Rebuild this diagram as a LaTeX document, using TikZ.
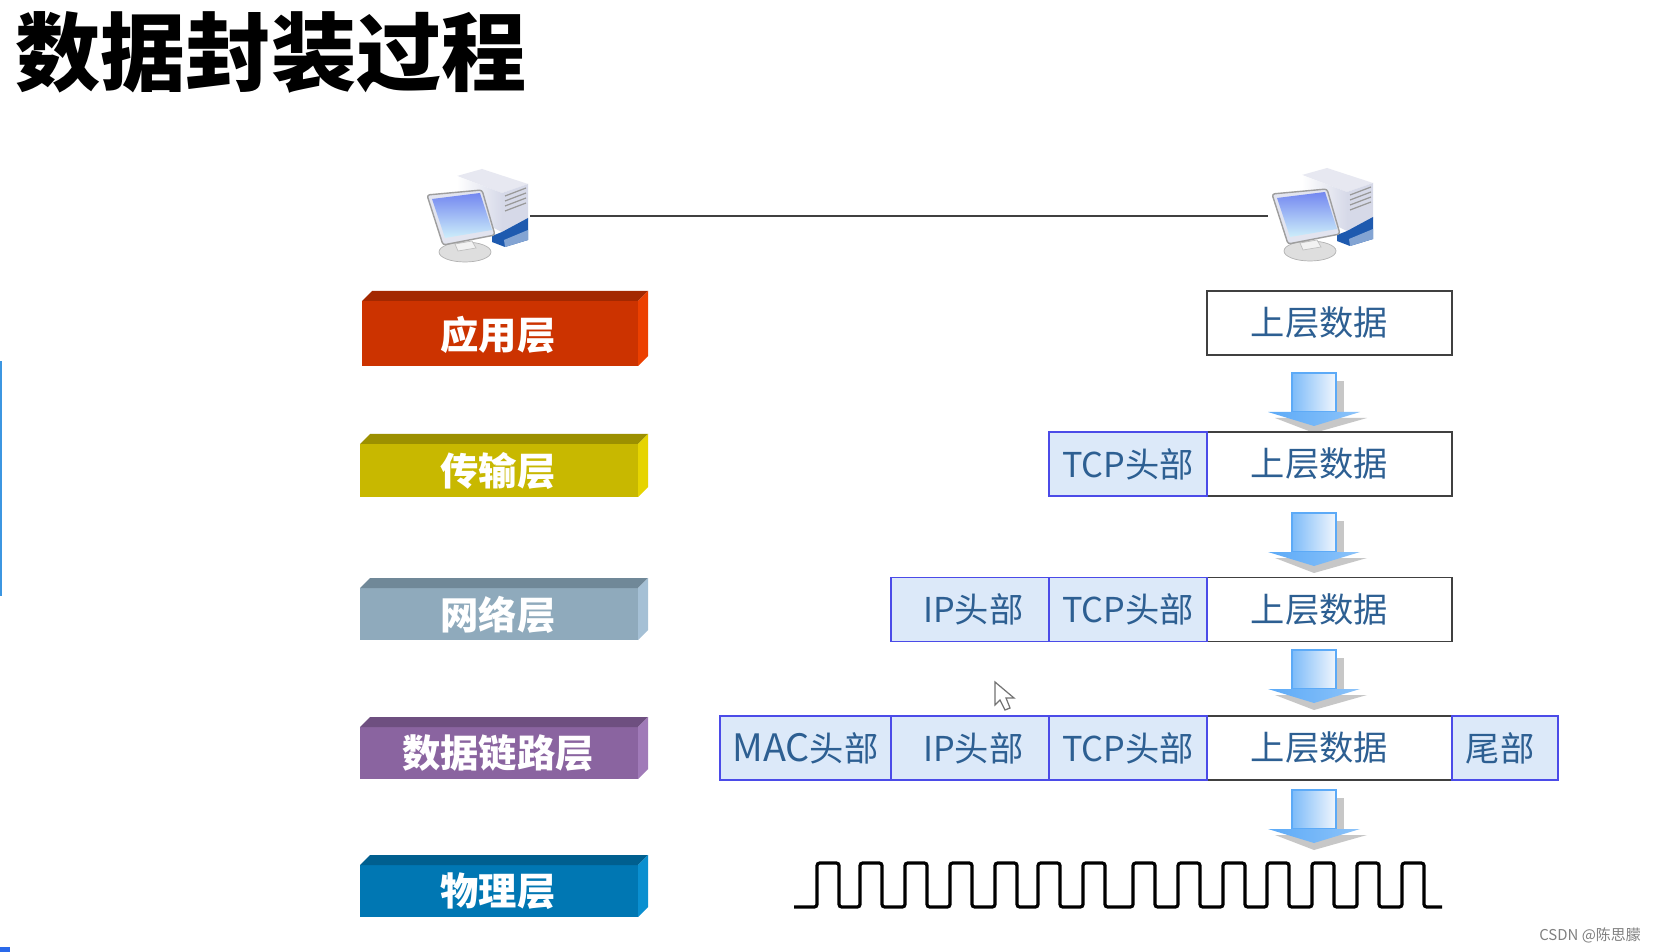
\documentclass[tikz,border=0pt]{standalone}
\usepackage{fontspec}
\setmainfont{Noto Sans CJK SC}
\usepackage{tikz}
\usetikzlibrary{calc}
\definecolor{mytext}{RGB}{45, 95, 146}
\definecolor{myborder}{RGB}{75, 75, 232}
\definecolor{myhdr}{RGB}{220, 233, 249}
\definecolor{myedge}{RGB}{60, 150, 225}
\definecolor{myscreen}{RGB}{115, 135, 240}
\definecolor{myscreenb}{RGB}{205, 238, 250}
\definecolor{mybase}{RGB}{30, 90, 175}
\definecolor{mytower}{RGB}{214, 217, 232}
\definecolor{myhead}{RGB}{92, 170, 247}
\definecolor{redF}{RGB}{204, 51, 0}
\definecolor{redT}{RGB}{163, 40, 0}
\definecolor{redS}{RGB}{236, 64, 0}
\definecolor{yelF}{RGB}{200, 184, 0}
\definecolor{yelT}{RGB}{156, 144, 0}
\definecolor{yelS}{RGB}{230, 212, 0}
\definecolor{gryF}{RGB}{143, 170, 188}
\definecolor{gryT}{RGB}{112, 136, 152}
\definecolor{gryS}{RGB}{165, 192, 213}
\definecolor{purF}{RGB}{138, 100, 160}
\definecolor{purT}{RGB}{110, 79, 128}
\definecolor{purS}{RGB}{160, 122, 184}
\definecolor{bluF}{RGB}{0, 119, 179}
\definecolor{bluT}{RGB}{0, 95, 143}
\definecolor{bluS}{RGB}{10, 143, 208}
\tikzset{
  databox/.style={draw=black!75, line width=1.1pt, fill=white, text=mytext, font=\fontsize{19.5}{20}\selectfont, minimum height=1.28cm, inner sep=0pt, outer sep=0pt},
  hdrbox/.style={databox, draw=myborder, fill=myhdr},
  layerlabel/.style={text=white, font=\fontsize{21.8}{22}\selectfont\bfseries, inner sep=0pt},
  pcspot/.style={minimum width=1.92cm, minimum height=1.6cm, inner sep=0pt, outer sep=0pt},
  computer/.pic={
    \fill[mytower!60!white] (37,16) -- (62,9) -- (108,24) -- (82,33) -- cycle;
    \shade[left color=white, right color=mytower] (37,16) -- (82,33) -- (82,72) -- (37,50) -- cycle;
    \fill[mytower] (82,33) -- (108,24) -- (108,60) -- (82,72) -- cycle;
    \foreach \g in {36,41,46,51}
      \draw[black!40, line width=0.7pt] (85,\g) -- (106,{\g-8});
    \fill[mybase] (72,76) -- (82,72) -- (108,58) -- (108,80) -- (85,87) -- (72,82) -- cycle;
    \fill[mybase!55!white] (84,80) -- (108,70) -- (108,80) -- (85,87) -- cycle;
    \fill[black!13, draw=black!30] (45,92) ellipse (26 and 10);
    \fill[black!5, draw=black!25] (35,84) -- (52,81) -- (56,88) -- (38,91) -- cycle;
    \fill[mytower!70!white, draw=black!38, line width=0.8pt, rounded corners=1.5pt] (7,35) -- (62,30) -- (75,75) -- (23,85) -- cycle;
    \shade[top color=myscreen, bottom color=myscreenb] (12,39) -- (60,33) -- (72,70) -- (25,78) -- cycle;
  },
  downarrow/.pic={
    \fill[black!22] (22,8) -- (30,8) -- (30,39) -- (22,39) -- cycle;
    \fill[black!22] (-39,45) -- (53,45) -- (0,60) -- cycle;
    \shade[left color=myhead!80, right color=myhdr!40, draw=myhead, line width=0.6pt] (-22,0) -- (22,0) -- (22,39) -- (-22,39) -- cycle;
    \shade[left color=myhead, right color=myhead!70] (-46,39) -- (46,39) -- (0,53) -- cycle;
  }
}
\begin{document}
\begin{tikzpicture}[x=0.02cm, y=-0.02cm]
\useasboundingbox (0,0) rectangle (1656,952);
\fill[white] (0,0) rectangle (1656,952);
\fill[myedge] (0,361) rectangle (2,596);
\fill[myedge!70!blue] (0,947) rectangle (10,952);
\node[font=\fontsize{48.5}{50}\selectfont\bfseries, inner sep=0pt] (title) at (271,52) {数据封装过程};

% computers and the line between them
\pic at (420,160) {computer};
\pic at (1265,159) {computer};
\node[pcspot] (pcA) at (482,216) {};
\node[pcspot] (pcB) at (1316,216) {};
\draw[black!75, line width=1pt] (pcA.east) -- (pcB.west);

% layers
\foreach \i/\xl/\ytop/\ybot/\col/\ytext/\lbl in {1/362/291/366/red/335/应用层, 2/360/434/497/yel/471/传输层, 3/360/578/640/gry/615/网络层, 4/360/717/779/pur/753/数据链路层, 5/360/855/917/blu/891/物理层} {
  \fill[\col F] (\xl,\ytop+10) rectangle (638,\ybot);
  \fill[\col T] (\xl,\ytop+10) -- (\xl+10,\ytop) -- (648,\ytop) -- (638,\ytop+10) -- cycle;
  \fill[\col S] (638,\ytop+10) -- (648,\ytop) -- (648,\ybot-10) -- (638,\ybot) -- cycle;
  \node[layerlabel] (layer\i) at (498,\ytext) {\lbl};
}

% arrows
\foreach \ya in {373,513,650,790}
  \pic at (1314,\ya) {downarrow};

% boxes
\node[databox, minimum width=4.9cm] (dataA) at (1329.5,323) {\raisebox{-1pt}{上层数据}\hspace*{0.4cm}};
\node[databox, minimum width=4.9cm] (dataB) at (1329.5,464) {上层数据\hspace*{0.4cm}};
\node[databox, minimum width=4.9cm] (dataC) at (1329.5,609.5) {上层数据\hspace*{0.4cm}};
\node[databox, minimum width=4.9cm] (dataD) at (1329.5,748) {上层数据\hspace*{0.4cm}};
\node[hdrbox, minimum width=3.16cm] (tcpB) at (1128,464) {TCP头部};
\node[hdrbox, minimum width=3.16cm] (tcpC) at (1128,609.5) {TCP头部};
\node[hdrbox, minimum width=3.16cm] (tcpD) at (1128,748) {TCP头部};
\node[hdrbox, minimum width=3.16cm] (ipC) at (970,609.5) {\hspace*{0.13cm}IP头部};
\node[hdrbox, minimum width=3.16cm] (ipD) at (970,748) {\hspace*{0.13cm}IP头部};
\node[hdrbox, minimum width=3.42cm] (macD) at (805.5,748) {{\fontsize{21.5}{22}\selectfont MAC}头部};
\node[hdrbox, minimum width=2.12cm] (tailD) at (1505,748) {尾部\hspace*{0.2cm}};

% signal
\draw[black, line width=1.8pt, rounded corners=1.5pt] (794,907)
  foreach \r in {817,860,905,950,995,1038,1083,1133,1178,1223,1267,1312,1357,1402} {
    -- (\r,907) -- (\r,863) -- ({\r+22},863) -- ({\r+22},907)
  } -- (1442,907);

% cursor
\draw[black!55, fill=white, line width=0.7pt] (995,682) -- (995,705) -- (1000,700) -- (1005,710) -- (1010,708) -- (1006,698) -- (1014,698) -- cycle;

\node[text=black!50, font=\fontsize{8.5}{9}\selectfont, inner sep=0pt] (mark) at (1590,935) {CSDN @陈思朦};
\end{tikzpicture}
\end{document}
